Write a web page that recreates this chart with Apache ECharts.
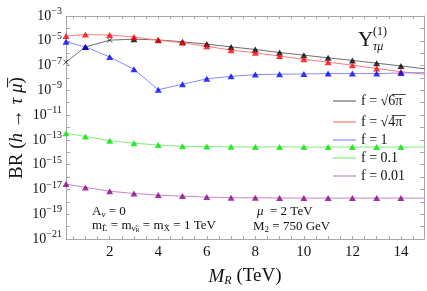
<!DOCTYPE html>
<html>
<head>
<meta charset="utf-8">
<script src="https://cdn.jsdelivr.net/npm/echarts@6/dist/echarts.min.js"></script>
<style>
html,body{margin:0;padding:0;background:#fff;}
#chart{width:427px;height:291px;}
</style>
</head>
<body>
<div id="chart"></div>
<script>
// ---- data ----
const mR = [0.2, 1, 2, 3, 4, 5, 6, 7, 8, 9, 10, 11, 12, 13, 14, 15];
const brF6pi = [1.86e-7, 3.2e-6, 1.12e-5, 1.35e-5, 1.17e-5, 8.3e-6, 5.4e-6, 3.2e-6, 2.0e-6, 1.12e-6, 6.9e-7, 4.2e-7, 2.6e-7, 1.55e-7, 9.3e-8, 5.4e-8];
const brF4pi = [2.4e-5, 3.2e-5, 2.9e-5, 2.0e-5, 1.12e-5, 6.9e-6, 3.6e-6, 1.74e-6, 1.07e-6, 5.8e-7, 3.2e-7, 1.86e-7, 1.07e-7, 5.8e-8, 3.2e-8, 2.0e-8];
const brF1 = [8.3e-6, 3.2e-6, 5.0e-7, 5.0e-8, 1.12e-9, 3.1e-9, 8.5e-9, 1.35e-8, 1.86e-8, 2.0e-8, 2.1e-8, 2.24e-8, 2.24e-8, 2.24e-8, 2.5e-8, 2.7e-8];
const brF01 = [3.5e-13, 1.86e-13, 8.7e-14, 5.4e-14, 3.9e-14, 3.0e-14, 2.9e-14, 2.75e-14, 2.7e-14, 2.7e-14, 2.65e-14, 2.65e-14, 2.65e-14, 2.65e-14, 2.65e-14, 2.65e-14];
const brF001 = [2.7e-17, 1.45e-17, 7.2e-18, 4.7e-18, 3.5e-18, 2.9e-18, 2.4e-18, 2.15e-18, 2.1e-18, 2.05e-18, 2.0e-18, 2.0e-18, 2.0e-18, 2.0e-18, 2.0e-18, 2.0e-18];
const seriesNames = ['f = √6̅π̅', 'f = √4̅π̅', 'f = 1', 'f = 0.1', 'f = 0.01'];
const xTickLabels = [2, 4, 6, 8, 10, 12, 14];
const xTicks = [0.5,1,1.5,2,2.5,3,3.5,4,4.5,5,5.5,6,6.5,7,7.5,8,8.5,9,9.5,10,10.5,11,11.5,12,12.5,13,13.5,14,14.5];
const yTickLabels = [1e-21, 1e-19, 1e-17, 1e-15, 1e-13, 1e-11, 1e-9, 1e-7, 1e-5, 1e-3];
const yTicks = [1e-20, 1e-19, 1e-18, 1e-17, 1e-16, 1e-15, 1e-14, 1e-13, 1e-12, 1e-11, 1e-10, 1e-9, 1e-8, 1e-7, 1e-6, 1e-5, 1e-4];

// ---- styling ----
const SERIF = 'Liberation Serif';
const lineColors = ['#6e6e6e', '#ff7a7a', '#8a8aff', '#7cf07c', '#c887c8'];
const markColors = ['#000000', '#ff0000', '#0000ff', '#00e000', '#880088'];
const legendY = [101, 122, 140, 158, 176];
const allData = [brF6pi, brF4pi, brF1, brF01, brF001];
const frame = '#a8a8a8';
const crossPath = 'path://M0,0L10,10M10,0L0,10';

const chart = echarts.init(document.getElementById('chart'), null, {renderer: 'canvas'});

const series = [];
allData.forEach((arr, k) => {
  const pts = mR.map((x, i) => [x, arr[i]]);
  series.push({
    name: seriesNames[k], type: 'line', data: pts, showSymbol: false, symbol: 'none',
    xAxisIndex: 0, yAxisIndex: 0,
    lineStyle: {color: lineColors[k], width: 1}, itemStyle: {color: lineColors[k]},
    z: 2, animation: false, silent: true
  });
  series.push({
    name: 'm' + k, type: 'scatter', animation: false, silent: true, z: 3 + k,
    xAxisIndex: 0, yAxisIndex: 0,
    data: pts.map((p, i) => {
      if (k === 0 && (i === 0 || i === 2)) {
        return {value: p, symbol: crossPath, symbolSize: 5,
          itemStyle: {color: 'none', borderColor: '#222', borderWidth: 1}};
      }
      return {value: p};
    }),
    symbol: 'triangle', symbolSize: [7, 6],
    itemStyle: {color: markColors[k]}
  });
});

const legends = seriesNames.map((n, k) => ({
  data: [n], left: 333, top: legendY[k] - 8, orient: 'vertical',
  icon: 'rect', itemWidth: 23, itemHeight: 1.2, padding: 0,
  textStyle: {fontFamily: SERIF, fontSize: 14, color: '#111', lineHeight: 16},
  selectedMode: false
}));

const supRich = {
  b: {fontFamily: SERIF, fontSize: 14, color: '#111'},
  s: {fontFamily: SERIF, fontSize: 10, color: '#111', padding: [0, 0, 9, 0]}
};
const fmtY = v => {
  const e = Math.round(Math.log10(v));
  return '{b|10}{s|−' + (-e) + '}';
};

const xBase = {
  type: 'value', min: 0.2, max: 14.95,
  axisLine: {show: true, onZero: false, lineStyle: {color: frame, width: 1}},
  axisTick: {show: true, inside: true, length: 3, customValues: xTicks, lineStyle: {color: frame}},
  splitLine: {show: false}
};
const yBase = {
  type: 'log', logBase: 10, min: 1e-21, max: 1e-3,
  axisLine: {show: true, onZero: false, lineStyle: {color: frame, width: 1}},
  axisTick: {show: true, inside: true, length: 4, customValues: yTicks, lineStyle: {color: frame}},
  splitLine: {show: false}
};

chart.setOption({
  animation: false,
  grid: {left: 66, right: 3, top: 16, bottom: 52, containLabel: false, outerBoundsMode: 'none'},
  legend: legends,
  xAxis: [Object.assign({}, xBase, {
    position: 'bottom',
    axisLabel: {customValues: xTickLabels, fontFamily: SERIF, fontSize: 15, color: '#111', margin: 6},
    name: '{i|M}{isub|R}{n| (TeV)}', nameLocation: 'middle', nameGap: 27,
    nameTextStyle: {rich: {
      i: {fontFamily: SERIF, fontStyle: 'italic', fontSize: 19, color: '#111'},
      isub: {fontFamily: SERIF, fontStyle: 'italic', fontSize: 12, color: '#111', padding: [9, 0, 0, 0]},
      n: {fontFamily: SERIF, fontSize: 19, color: '#111'}
    }}
  }), Object.assign({}, xBase, {position: 'top', axisLabel: {show: false}})],
  yAxis: [Object.assign({}, yBase, {
    position: 'left',
    axisLabel: {customValues: yTickLabels, margin: 4, formatter: fmtY, rich: supRich}
  }), Object.assign({}, yBase, {position: 'right', axisLabel: {show: false}})],
  series: series,
  graphic: [
    {type: 'text', x: 17, y: 128, rotation: Math.PI / 2, style: {
      text: '{n|BR (}{i|h → τ μ̅}{n|)}', align: 'center', verticalAlign: 'middle',
      rich: {i: {fontFamily: SERIF, fontStyle: 'italic', fontSize: 19, fill: '#111'},
        n: {fontFamily: SERIF, fontSize: 19, fill: '#111'}}
    }},
    {type: 'text', left: 92, top: 205, style: {
      text: '{n|A}{sub|ν}{n| = 0}',
      rich: {n: {fontFamily: SERIF, fontSize: 13, fill: '#111'}, sub: {fontFamily: SERIF, fontSize: 9, fill: '#111', padding: [7, 0, 0, 0]}}
    }},
    {type: 'text', left: 92, top: 219, style: {
      text: '{n|m}{sub|L̃}{n| = m}{sub|ν̃}{ss|R}{n| = m}{sub|X̃}{n| = 1 TeV}',
      rich: {n: {fontFamily: SERIF, fontSize: 13, fill: '#111'},
        sub: {fontFamily: SERIF, fontSize: 9, fill: '#111', padding: [7, 0, 0, 0]},
        ss: {fontFamily: SERIF, fontSize: 6, fill: '#111', padding: [10, 0, 0, 0]}}
    }},
    {type: 'text', left: 257, top: 205, style: {
      text: '{i|μ}{n|  = 2 TeV}',
      rich: {n: {fontFamily: SERIF, fontSize: 13, fill: '#111'}, i: {fontFamily: SERIF, fontStyle: 'italic', fontSize: 13, fill: '#111'}}
    }},
    {type: 'text', left: 253, top: 220, style: {
      text: '{n|M}{sub|2}{n| = 750 GeV}',
      rich: {n: {fontFamily: SERIF, fontSize: 13, fill: '#111'}, sub: {fontFamily: SERIF, fontSize: 9, fill: '#111', padding: [7, 0, 0, 0]}}
    }},
    {type: 'text', left: 358, top: 30, style: {text: 'Y', fontFamily: SERIF, fontSize: 21, fill: '#111'}},
    {type: 'text', left: 373, top: 26, style: {text: '(1)', fontFamily: SERIF, fontSize: 12, fill: '#111'}},
    {type: 'text', left: 373, top: 41, style: {text: 'τμ', fontFamily: SERIF, fontStyle: 'italic', fontSize: 12, fill: '#111'}}
  ]
});
</script>
</body>
</html>
